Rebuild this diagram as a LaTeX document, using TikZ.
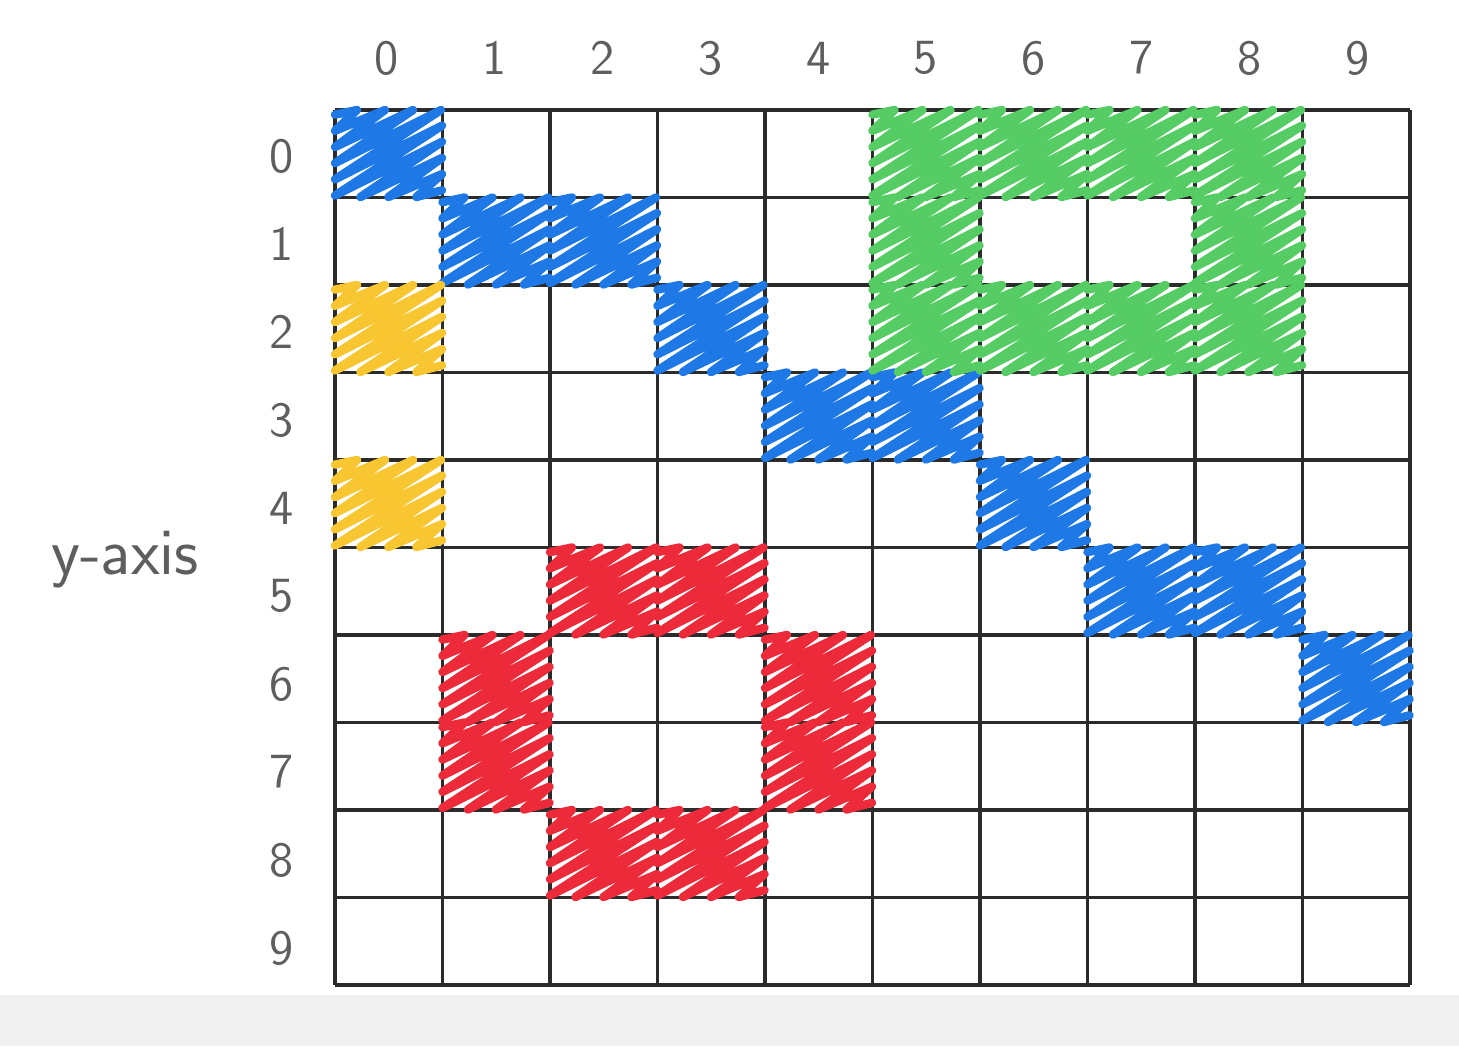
\documentclass[tikz,border=0pt]{standalone}
\usepackage{tikz}
\definecolor{ink}{HTML}{2B2B2B}
\definecolor{pencil}{HTML}{5E5E5E}
\definecolor{paper}{HTML}{F0F0F0}
\definecolor{blueink}{HTML}{1E78E6}
\definecolor{greenink}{HTML}{55CC64}
\definecolor{yellowink}{HTML}{F8C630}
\definecolor{redink}{HTML}{EC2A3A}
\tikzset{
  % the printed rules of the grid
  rule/.style = {draw=ink, line width=1.1pt},
  % a marker scribble over one cell
  scr/.style  = {line width=2.4pt, line join=round, line cap=round},
  % the pencilled digits
  num/.style  = {font=\sffamily\fontsize{14}{16}\selectfont, text=pencil,
                 inner sep=1pt},
}
% scribble cell (#1,#2) in colour #3
\newcommand{\scrib}[3]{%
  \draw[scr, draw=#3, shift={(335+107.5*#1, 110+87.5*#2)}]
    (0,4.6) -- (22,0) -- (0,20.8) -- (50,0) -- (0,37) -- (78,0)
    -- (0,53.1) -- (106,0) -- (0,69.3) -- (107,15.6) -- (0,85.5)
    -- (107,31.8) -- (25.4,87) -- (107,47.9) -- (53.4,87)
    -- (107,64.1) -- (81.4,87) -- (107,80.3);}

\begin{document}
\begin{tikzpicture}[x=0.1mm, y=-0.1mm]
  \useasboundingbox (0,0) rectangle (1459,1046);
  \fill[white] (0,0) rectangle (1459,1046);
  \fill[paper] (0,995) rectangle (1459,1046);
  % grid
  \foreach \i in {0,...,10} {
    \draw[rule] (335+107.5*\i, 110) -- (335+107.5*\i, 985);
    \draw[rule] (335, 110+87.5*\i) -- (1410, 110+87.5*\i);
  }
  % labels
  \foreach \i in {0,...,9} {
    \node[num] (c\i) at (387+107.8*\i, 58) {\i};
    \node[num] (r\i) at (282, 156+88*\i) {\i};
  }
  \node[num, font=\sffamily\fontsize{19}{21}\selectfont] (yaxis) at (125, 560) {y-axis};
  % cells
  \foreach \c/\r in {0/0, 1/1, 2/1, 3/2, 4/3, 5/3, 6/4, 7/5, 8/5, 9/6}
    \scrib{\c}{\r}{blueink};
  \foreach \c/\r in {5/0, 6/0, 7/0, 8/0, 5/1, 8/1, 5/2, 6/2, 7/2, 8/2}
    \scrib{\c}{\r}{greenink};
  \foreach \c/\r in {0/2, 0/4}
    \scrib{\c}{\r}{yellowink};
  \foreach \c/\r in {2/5, 3/5, 1/6, 4/6, 1/7, 4/7, 2/8, 3/8}
    \scrib{\c}{\r}{redink};
\end{tikzpicture}
\end{document}
